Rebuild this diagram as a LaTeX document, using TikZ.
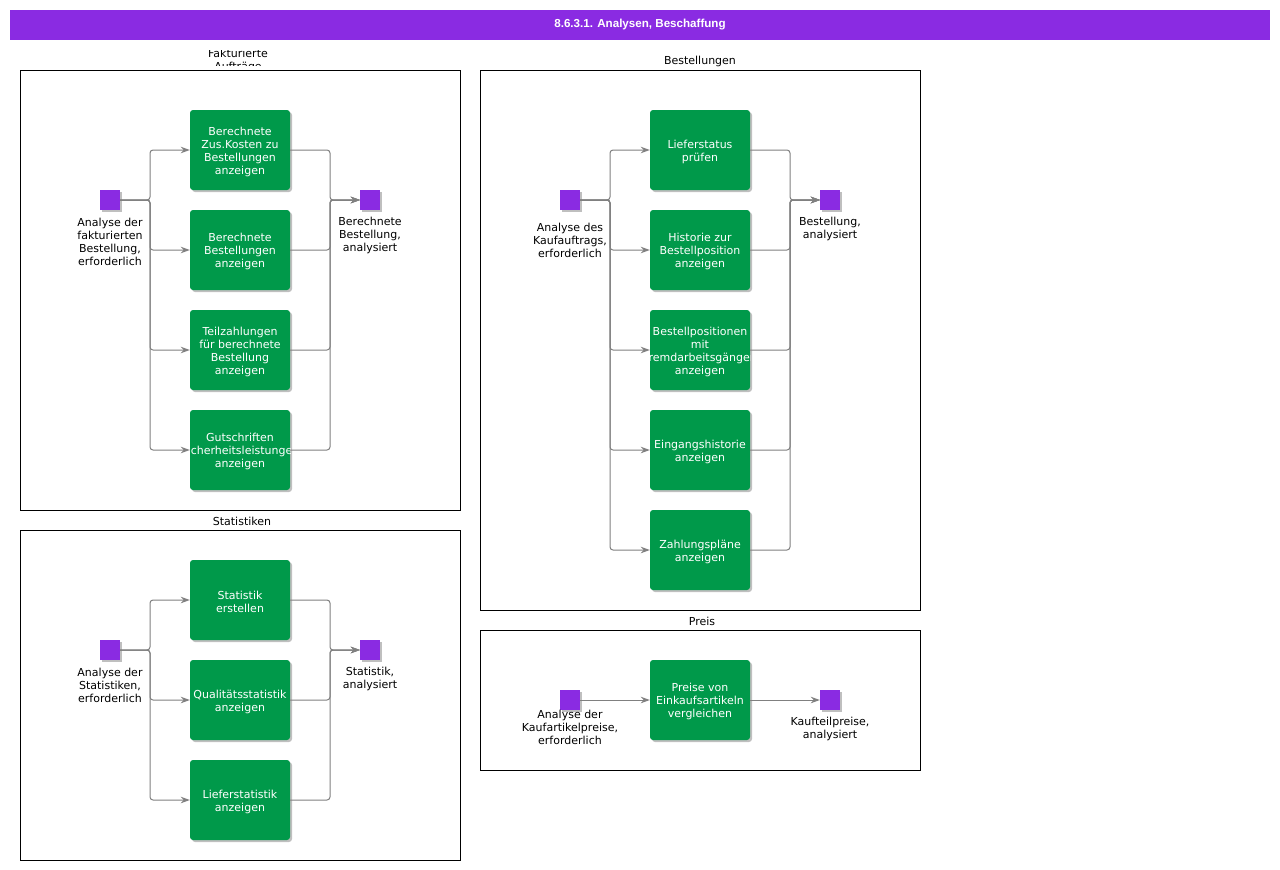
\documentclass[tikz,border=0pt]{standalone}
\usepackage{fontspec}
\setmainfont{DejaVu Sans}
\newfontfamily\titlefont{Liberation Sans}
\usetikzlibrary{shadows,arrows.meta}
\definecolor{vio}{RGB}{138,43,226}
\definecolor{grn}{RGB}{0,153,74}
\definecolor{lineg}{RGB}{128,128,128}
\tikzset{
  act/.style={minimum width=100pt, minimum height=80pt, inner sep=0pt, fill=grn, rounded corners=3pt,
    drop shadow={shadow xshift=2pt, shadow yshift=-2pt, opacity=.25, fill=black}},
  boxtxt/.style={text=white, align=center, inner sep=0pt, yshift=-1.5pt, font=\fontsize{11}{13}\selectfont},
  ev/.style={minimum size=20pt, inner sep=0pt, fill=vio,
    drop shadow={shadow xshift=2pt, shadow yshift=-2pt, opacity=.25, fill=black}},
  grp/.style={draw=black, line width=0.8pt, inner sep=0pt},
  lbl/.style={align=center, inner sep=0pt, font=\fontsize{11}{13}\selectfont},
  flow/.style={draw=lineg, line width=1pt, rounded corners=3pt, -{Stealth[length=9pt,width=6.5pt]}},
}
\newcommand\actbox[3]{\node[act, path picture={\node[boxtxt] at (path picture bounding box.center) {#3};}] (#1) at (#2) {};}
\begin{document}
\begin{tikzpicture}[x=1pt,y=-1pt]
\useasboundingbox (0,0) rectangle (1280,870);
\fill[white] (0,0) rectangle (1280,870);
% title
\node[fill=vio, minimum width=1260pt, minimum height=30pt, inner sep=0pt, text=white,
  font=\titlefont\bfseries\fontsize{11.6}{13}\selectfont] (title) at (640,25) {8.6.3.1. Analysen, Beschaffung};
% groups
\node[grp, minimum width=440pt, minimum height=440pt] (g1) at (240,290) {};
\node[grp, minimum width=440pt, minimum height=540pt] (g2) at (700,340) {};
\node[grp, minimum width=440pt, minimum height=330pt] (g3) at (240,695) {};
\node[grp, minimum width=440pt, minimum height=140pt] (g4) at (700,700) {};
\begin{scope}
  \clip (100,50.5) rectangle (380,65.5);
  \node[lbl] (g1l) at (238,61) {Fakturierte\\Aufträge};
\end{scope}
\node[lbl] (g2l) at (700,61.5) {Bestellungen};
\node[lbl] (g3l) at (242,521.5) {Statistiken};
\node[lbl] (g4l) at (702,621.5) {Preis};

% ---------- group 1
\node[ev] (s1) at (110,200) {};
\node[lbl] (s1l) at (110,241.5) {Analyse der\\fakturierten\\Bestellung,\\erforderlich};
\actbox{a11}{240,150}{Berechnete\\Zus.Kosten zu\\Bestellungen\\anzeigen}
\actbox{a12}{240,250}{Berechnete\\Bestellungen\\anzeigen}
\actbox{a13}{240,350}{Teilzahlungen\\für berechnete\\Bestellung\\anzeigen}
\actbox{a14}{240,450}{Gutschriften\\Sicherheitsleistungen\\anzeigen}
\node[ev] (e1) at (370,200) {};
\node[lbl] (e1l) at (370,235) {Berechnete\\Bestellung,\\analysiert};
\coordinate (j1) at (150,200);
\coordinate (k1) at (330,200);
\foreach \b in {a11,a12,a13,a14}{
  \draw[flow] (s1.east) -- (j1) |- (\b.west);
  \draw[flow] (\b.east) -| (k1) -- (e1.west);
}

% ---------- group 2
\node[ev] (s2) at (570,200) {};
\node[lbl] (s2l) at (570,240) {Analyse des\\Kaufauftrags,\\erforderlich};
\actbox{a21}{700,150}{Lieferstatus\\prüfen}
\actbox{a22}{700,250}{Historie zur\\Bestellposition\\anzeigen}
\actbox{a23}{700,350}{Bestellpositionen\\mit\\Fremdarbeitsgängen\\anzeigen}
\actbox{a24}{700,450}{Eingangshistorie\\anzeigen}
\actbox{a25}{700,550}{Zahlungspläne\\anzeigen}
\node[ev] (e2) at (830,200) {};
\node[lbl] (e2l) at (830,228.5) {Bestellung,\\analysiert};
\coordinate (j2) at (610,200);
\coordinate (k2) at (790,200);
\foreach \b in {a21,a22,a23,a24,a25}{
  \draw[flow] (s2.east) -- (j2) |- (\b.west);
  \draw[flow] (\b.east) -| (k2) -- (e2.west);
}

% ---------- group 3
\node[ev] (s3) at (110,650) {};
\node[lbl] (s3l) at (110,685) {Analyse der\\Statistiken,\\erforderlich};
\actbox{a31}{240,600}{Statistik\\erstellen}
\actbox{a32}{240,700}{Qualitätsstatistik\\anzeigen}
\actbox{a33}{240,800}{Lieferstatistik\\anzeigen}
\node[ev] (e3) at (370,650) {};
\node[lbl] (e3l) at (370,678.5) {Statistik,\\analysiert};
\coordinate (j3) at (150,650);
\coordinate (k3) at (330,650);
\foreach \b in {a31,a32,a33}{
  \draw[flow] (s3.east) -- (j3) |- (\b.west);
  \draw[flow] (\b.east) -| (k3) -- (e3.west);
}

% ---------- group 4
\node[ev] (s4) at (570,700) {};
\node[lbl] (s4l) at (570,727.5) {Analyse der\\Kaufartikelpreise,\\erforderlich};
\actbox{a41}{700,700}{Preise von\\Einkaufsartikeln\\vergleichen}
\node[ev] (e4) at (830,700) {};
\node[lbl] (e4l) at (830,728.5) {Kaufteilpreise,\\analysiert};
\draw[flow] (s4.east) -- (a41.west);
\draw[flow] (a41.east) -- (e4.west);
\end{tikzpicture}
\end{document}
